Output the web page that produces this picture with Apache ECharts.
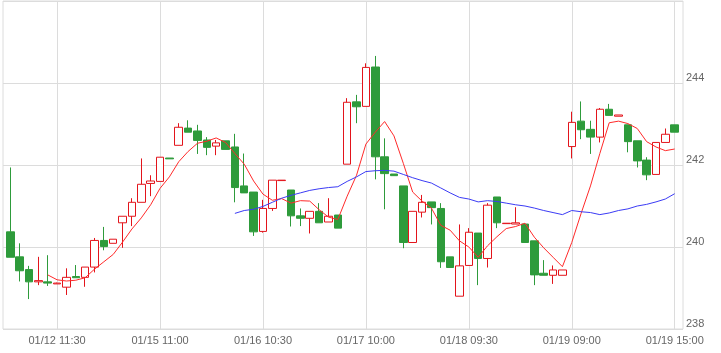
<!DOCTYPE html>
<html>
<head>
    <meta charset="utf-8">
    <title>K线</title>
    <script src="https://cdn.jsdelivr.net/npm/echarts@6/dist/echarts.min.js"></script>
    <style>html,body{margin:0;padding:0;background:#fff;}</style>
</head>
<body>
    <div id="main" style="width:721px;height:353px;"></div>
    <script type="text/javascript">
        // 日期 / 每日时段
        var days = ['01/12', '01/15', '01/16', '01/17', '01/18', '01/19'];
        var times = ['09:00', '09:30', '10:00', '10:30', '11:00', '11:30', '13:00', '13:30', '14:00', '14:30', '14:45', '15:00'];

        var opens = [240.37, 239.76, 239.45, 239.15, 239.15, 239.10, 239.02, 239.28, 239.26, 239.51, 240.16, 240.09,
            240.59, 240.75, 241.09, 241.55, 241.60, 242.17, 242.48, 242.90, 242.83, 242.61, 242.46, 242.59,
            242.44, 241.49, 241.34, 240.38, 240.94, 241.62, 241.39, 240.76, 240.70, 240.87, 240.61, 240.78,
            242.02, 243.54, 243.43, 244.39, 242.20, 241.78, 241.49, 240.11, 240.85, 241.10, 240.94, 239.76,
            238.80, 239.55, 240.34, 239.72, 241.22, 240.57, 240.56, 240.56, 240.15, 239.36, 239.31, 239.31,
            242.45, 243.07, 242.87, 242.68, 243.36, 243.19, 242.98, 242.59, 242.12, 241.77, 242.55, 242.98];
        var closes = [239.75, 239.42, 239.15, 239.18, 239.12, 239.12, 239.26, 239.25, 239.51, 240.16, 240.01, 240.19,
            240.75, 241.09, 241.53, 241.61, 242.19, 242.15, 242.92, 242.80, 242.60, 242.43, 242.54, 242.38,
            241.45, 241.32, 240.37, 240.94, 241.63, 241.63, 240.76, 240.70, 240.87, 240.59, 240.75, 240.46,
            243.53, 243.42, 244.38, 242.20, 241.79, 241.74, 240.11, 240.87, 241.09, 240.96, 239.64, 239.50,
            239.54, 240.36, 239.72, 241.02, 240.59, 240.58, 240.59, 240.11, 239.32, 239.31, 239.44, 239.44,
            243.04, 242.86, 242.68, 243.36, 243.21, 243.22, 242.57, 242.10, 241.76, 242.55, 242.75, 242.80];
        var lows = [239.75, 239.16, 238.73, 239.07, 239.05, 239.10, 238.83, 239.25, 239.03, 239.38, 239.92, 240.09,
            239.98, 240.51, 241.09, 241.24, 241.60, 242.15, 242.48, 242.80, 242.27, 242.24, 242.24, 242.38,
            241.09, 241.32, 240.27, 240.35, 240.88, 241.62, 240.50, 240.51, 240.33, 240.59, 240.61, 240.46,
            242.02, 243.02, 243.43, 241.65, 240.92, 241.74, 239.97, 240.11, 240.72, 240.55, 239.49, 239.50,
            238.80, 239.55, 239.07, 239.50, 240.46, 240.57, 240.56, 240.11, 239.07, 239.31, 239.10, 239.31,
            242.16, 242.63, 242.27, 242.55, 243.21, 243.19, 242.31, 241.94, 241.63, 241.77, 242.55, 242.80];
        var highs = [241.94, 240.09, 239.54, 239.76, 239.80, 239.13, 239.48, 239.56, 239.51, 240.22, 240.49, 240.19,
            240.75, 241.19, 242.16, 241.75, 242.19, 242.17, 243.02, 243.09, 242.98, 242.68, 242.61, 242.59,
            242.76, 242.28, 241.34, 241.15, 241.63, 241.63, 241.39, 240.94, 240.87, 241.07, 241.19, 240.78,
            243.63, 243.71, 244.48, 244.66, 242.65, 241.78, 241.49, 240.87, 241.27, 241.10, 241.07, 239.76,
            240.55, 240.46, 240.34, 241.07, 241.22, 240.58, 240.97, 240.56, 240.15, 239.68, 239.55, 239.44,
            243.30, 243.55, 243.08, 243.39, 243.49, 243.22, 242.98, 242.59, 242.19, 242.55, 242.89, 242.98];

        // 均线
        var ma5 = ['-', '-', '-', '-', 239.32, 239.20, 239.17, 239.19, 239.25, 239.46, 239.64, 239.82,
            240.12, 240.44, 240.71, 241.03, 241.43, 241.71, 242.08, 242.33, 242.53, 242.58, 242.66, 242.55,
            242.28, 242.02, 241.61, 241.29, 241.14, 241.18, 241.07, 241.13, 241.12, 240.91, 240.73, 240.67,
            241.24, 241.75, 242.51, 242.80, 243.06, 242.71, 242.04, 241.34, 241.12, 240.95, 240.53, 240.41,
            240.15, 240.00, 239.75, 240.03, 240.25, 240.45, 240.50, 240.58, 240.24, 239.98, 239.75, 239.52,
            240.11, 240.82, 241.49, 242.28, 243.03, 243.07, 243.01, 242.89, 242.57, 242.44, 242.35, 242.39];
        var ma25 = ['-', '-', '-', '-', '-', '-', '-', '-', '-', '-', '-', '-',
            '-', '-', '-', '-', '-', '-', '-', '-', '-', '-', '-', '-',
            240.82, 240.89, 240.92, 240.99, 241.09, 241.19, 241.26, 241.32, 241.38, 241.42, 241.45, 241.47,
            241.60, 241.71, 241.84, 241.86, 241.87, 241.85, 241.77, 241.69, 241.62, 241.56, 241.44, 241.32,
            241.21, 241.17, 241.10, 241.13, 241.11, 241.07, 241.03, 241.00, 240.95, 240.89, 240.84, 240.79,
            240.89, 240.86, 240.84, 240.79, 240.83, 240.89, 240.93, 241.00, 241.04, 241.10, 241.17, 241.30];

        var categories = [];
        days.forEach(function (d) {
            times.forEach(function (t) { categories.push(d + ' ' + t); });
        });
        var kdata = opens.map(function (o, i) { return [o, closes[i], lows[i], highs[i]]; });

        // 每11根显示一个刻度，从第6根开始
        function showAt(i) { return (i - 5) % 11 === 0; }

        var gridColor = '#dcdcdc';
        var labelStyle = { color: '#666', fontSize: 11, fontFamily: 'Liberation Sans, Arial, sans-serif' };

        var myChart = echarts.init(document.getElementById('main'));
        var option = {
            animation: false,
            backgroundColor: '#fff',
            grid: [
                { left: 3, right: 38, top: 1, bottom: 24, show: true, borderColor: gridColor, borderWidth: 1 },
                { left: 10.3, right: 46.3, top: 1, bottom: 24 }
            ],
            xAxis: [
                { type: 'value', gridIndex: 0, show: false, min: 0, max: 1 },
                {
                    type: 'category', gridIndex: 1, data: categories, boundaryGap: false,
                    axisLine: { show: false }, axisTick: { show: false },
                    axisLabel: Object.assign({ interval: showAt, margin: 6 }, labelStyle),
                    splitLine: { show: true, interval: showAt, lineStyle: { color: gridColor } }
                }
            ],
            yAxis: [
                {
                    type: 'value', gridIndex: 0, position: 'right', min: 238, max: 246, interval: 2,
                    axisLine: { show: false }, axisTick: { show: false },
                    axisLabel: Object.assign({ showMaxLabel: false, verticalAlign: 'bottom', margin: 3 }, labelStyle),
                    splitLine: { show: true, lineStyle: { color: gridColor } }
                },
                { type: 'value', gridIndex: 1, min: 238, max: 246, show: false }
            ],
            series: [
                {
                    type: 'candlestick', xAxisIndex: 1, yAxisIndex: 1, data: kdata,
                    barWidth: 8, clip: false,
                    itemStyle: {
                        color: '#ffffff', color0: '#2e9b3b',
                        borderColor: '#e3141b', borderColor0: '#2e9b3b', borderWidth: 1
                    }
                },
                {
                    name: 'MA5', type: 'line', xAxisIndex: 1, yAxisIndex: 1, data: ma5,
                    symbol: 'none', lineStyle: { color: '#ff2a2a', width: 1 }
                },
                {
                    name: 'MA25', type: 'line', xAxisIndex: 1, yAxisIndex: 1, data: ma25,
                    symbol: 'none', lineStyle: { color: '#3b3bf5', width: 1 }
                }
            ]
        };
        myChart.setOption(option);
    </script>
</body>
</html>
